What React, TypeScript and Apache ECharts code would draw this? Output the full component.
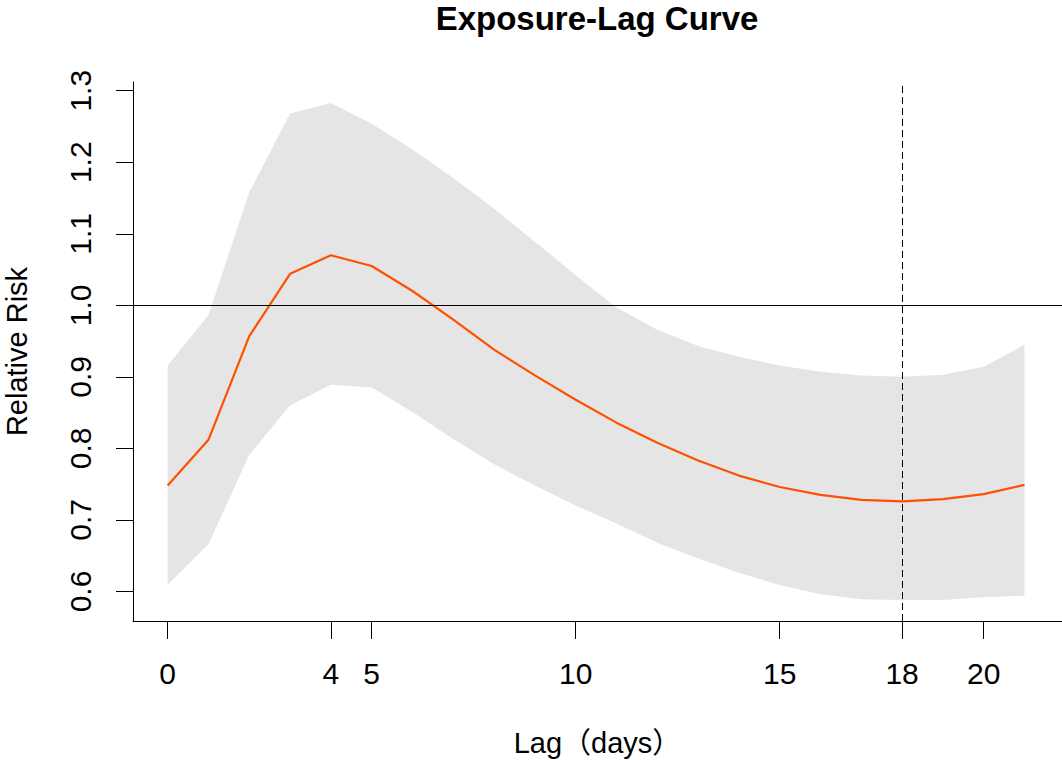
import React, { useEffect, useRef } from "react";
import * as echarts from "echarts";

const lags = [0, 1, 2, 3, 4, 5, 6, 7, 8, 9, 10, 11, 12, 13, 14, 15, 16, 17, 18, 19, 20, 21];
const relativeRisk = [0.748, 0.812, 0.957, 1.044, 1.07, 1.055, 1.02, 0.98, 0.938, 0.902, 0.868, 0.836, 0.808, 0.783, 0.762, 0.746, 0.735, 0.728, 0.726, 0.729, 0.736, 0.749];
const upperCI = [0.916, 0.986, 1.158, 1.268, 1.283, 1.254, 1.218, 1.178, 1.135, 1.089, 1.042, 0.997, 0.966, 0.943, 0.928, 0.916, 0.907, 0.902, 0.9, 0.903, 0.914, 0.945];
const lowerCI = [0.609, 0.666, 0.791, 0.86, 0.889, 0.885, 0.851, 0.813, 0.778, 0.748, 0.72, 0.695, 0.668, 0.646, 0.626, 0.609, 0.596, 0.589, 0.588, 0.588, 0.592, 0.594];
const xTicks = [0, 4, 5, 10, 15, 18, 20];
const yTicks = [0.6, 0.7, 0.8, 0.9, 1.0, 1.1, 1.2, 1.3];
const refRR = 1.0;
const refLag = 18;
const titleText = "Exposure-Lag Curve";
const xName = "Lag（days）";
const yName = "Relative Risk";

const FONT = "'Liberation Sans', Arial, 'Noto Sans CJK SC', sans-serif";

export default function App() {
  const ref = useRef<HTMLDivElement>(null);
  useEffect(() => {
    if (!ref.current) return;
    const chart = echarts.init(ref.current, null, { renderer: "svg" });
    const option: any = {
      animation: false,
      backgroundColor: "#ffffff",
      textStyle: { fontFamily: FONT },
      grid: { left: 133, right: 0, top: 82, bottom: 139, containLabel: false, outerBoundsMode: "none" },
      graphic: [
        {
          type: "text",
          x: 597,
          y: 18,
          style: {
            text: titleText,
            textAlign: "center",
            textVerticalAlign: "middle",
            fontFamily: FONT,
            fontSize: 33,
            fontWeight: "bold",
            fill: "#000",
          },
        },
      ],
      xAxis: {
        type: "value",
        min: -0.85,
        max: 21.92,
        name: xName,
        nameLocation: "middle",
        nameGap: 107,
        nameTextStyle: { fontSize: 29, color: "#000", fontFamily: FONT },
        axisLine: { show: true, onZero: false, lineStyle: { color: "#000", width: 1 } },
        axisTick: { show: true, length: 18, customValues: xTicks, lineStyle: { color: "#000", width: 1 } },
        axisLabel: { show: true, customValues: xTicks, margin: 37, fontSize: 30, color: "#000", fontFamily: FONT },
        splitLine: { show: false },
      },
      yAxis: {
        type: "value",
        min: 0.5587,
        max: 1.3122,
        name: yName,
        nameLocation: "middle",
        nameGap: 102,
        nameRotate: 90,
        nameTextStyle: { fontSize: 29, color: "#000", fontFamily: FONT },
        axisLine: { show: true, onZero: false, lineStyle: { color: "#000", width: 1 } },
        axisTick: { show: true, length: 17, customValues: yTicks, lineStyle: { color: "#000", width: 1 } },
        axisLabel: {
          show: true,
          customValues: yTicks,
          rotate: 90,
          margin: 38,
          fontSize: 30,
          color: "#000",
          fontFamily: FONT,
          formatter: (v: number) => v.toFixed(1),
        },
        splitLine: { show: false },
      },
      series: [
        {
          type: "custom",
          z: 1,
          silent: true,
          data: [[lags[0], relativeRisk[0]]],
          renderItem: (params: any, api: any) => {
            const pts: number[][] = [];
            for (let i = 0; i < lags.length; i++) pts.push(api.coord([lags[i], upperCI[i]]));
            for (let i = lags.length - 1; i >= 0; i--) pts.push(api.coord([lags[i], lowerCI[i]]));
            return { type: "polygon", shape: { points: pts }, style: { fill: "#e5e5e5", stroke: "none" } };
          },
        },
        {
          type: "line",
          z: 2,
          silent: true,
          symbol: "none",
          data: lags.map((x, i) => [x, relativeRisk[i]]),
          lineStyle: { color: "#ff5000", width: 2.2 },
        },
        {
          type: "line",
          z: 3,
          silent: true,
          symbol: "none",
          data: [],
          markLine: {
            silent: true,
            symbol: ["none", "none"],
            label: { show: false },
            data: [
              { yAxis: refRR, lineStyle: { color: "#000", width: 1.2, type: "solid" } },
              { xAxis: refLag, lineStyle: { color: "#000", width: 1, type: [7, 4] } },
            ],
          },
        },
      ],
    };
    chart.setOption(option);
    return () => chart.dispose();
  }, []);
  return (
    <div
      ref={ref}
      style={{ position: "absolute", left: 0, top: 0, width: 1062, height: 760, background: "#fff" }}
    />
  );
}
